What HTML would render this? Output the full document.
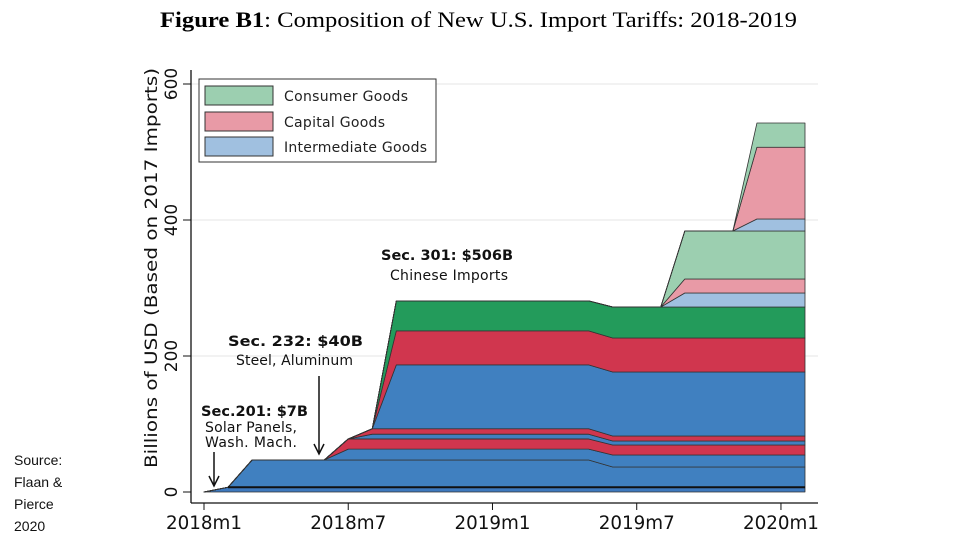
<!DOCTYPE html>
<html><head><meta charset="utf-8"><style>
body{margin:0;background:#fff;width:960px;height:540px;overflow:hidden;font-family:"DejaVu Sans","Liberation Sans",sans-serif}
</style></head><body>
<svg id="c" width="960" height="540" xmlns="http://www.w3.org/2000/svg" font-family="DejaVu Sans, Liberation Sans, sans-serif">
<text x="160" y="27" textLength="637" lengthAdjust="spacingAndGlyphs" font-family="Liberation Serif,serif" font-size="22"><tspan font-weight="bold">Figure B1</tspan>: Composition of New U.S. Import Tariffs: 2018-2019</text>
<g id="grid"></g><g id="areas"></g><g id="axes"></g>
<g>
<rect x="199" y="79" width="237" height="83" fill="#fff" stroke="#333" stroke-width="1"/>
<rect x="205" y="86" width="68" height="19" fill="#9ccfb0" stroke="#333"/>
<text x="284" y="101" font-size="14" textLength="124" fill="#222">Consumer Goods</text>
<rect x="205" y="112" width="68" height="19" fill="#e89aa6" stroke="#333"/>
<text x="284" y="127" font-size="14" textLength="101" fill="#222">Capital Goods</text>
<rect x="205" y="137" width="68" height="19" fill="#a0c0e0" stroke="#333"/>
<text x="284" y="152" font-size="14" textLength="143" fill="#222">Intermediate Goods</text>
</g>
<g font-size="14" fill="#111">
<text x="381" y="260" textLength="132" lengthAdjust="spacingAndGlyphs" font-weight="bold">Sec. 301: $506B</text>
<text x="390" y="280" textLength="118">Chinese Imports</text>
<text x="228" y="346" textLength="135" lengthAdjust="spacingAndGlyphs" font-weight="bold">Sec. 232: $40B</text>
<text x="236" y="365" textLength="117">Steel, Aluminum</text>
<text x="201" y="416" textLength="107" lengthAdjust="spacingAndGlyphs" font-weight="bold">Sec.201: $7B</text>
<text x="205" y="432" textLength="92">Solar Panels,</text>
<text x="205" y="447" textLength="92">Wash. Mach.</text>
</g>
<g stroke="#111" stroke-width="1.5" fill="none">
<path d="M319 376V453M314 444L319 454L324 444"/>
<path d="M214 452V485M209 476L214 486L219 476"/>
</g>
<g font-size="14" fill="#111" font-family="Liberation Sans,sans-serif">
<text x="14" y="465">Source:</text>
<text x="14" y="487">Flaan &amp;</text>
<text x="14" y="509">Pierce</text>
<text x="14" y="531">2020</text>
</g>
</svg>
<script>
// months since 2018m1 (0..25); cumulative boundary values (Billions USD)
const months=[0,1,2,3,4,5,6,7,8,9,10,11,12,13,14,15,16,17,18,19,20,21,22,23,24,25];
const xTicks=[0,6,12,18,24];
const xTickLabels=["2018m1","2018m7","2019m1","2019m7","2020m1"];
const yTicks=[0,200,400,600];
const layerColors=["#3d78bd","#4080c0","#4080c0","#d0364e","#4080c0","#d0364e","#4080c0","#d0364e","#239b5b","#a0c0e0","#e89aa6","#9ccfb0","#a0c0e0","#e89aa6","#9ccfb0"];
const L1=[0,7,7,7,7,7,7,7,7,7,7,7,7,7,7,7,7,7.4,7.4,7.4,7.4,7.4,7.4,7.4,7.4,7.4];
const L2=[0,7,47,47,47,47,47,47,47,47,47,47,47,47,47,47,47,36.8,36.8,36.8,36.8,36.8,36.8,36.8,36.8,36.8];
const L3=[0,7,47,47,47,47,63,63,63,63,63,63,63,63,63,63,63,54.4,54.4,54.4,54.4,54.4,54.4,54.4,54.4,54.4];
const L4=[0,7,47,47,47,47,78,78,78,78,78,78,78,78,78,78,78,69.1,69.1,69.1,69.1,69.1,69.1,69.1,69.1,69.1];
const L5=[0,7,47,47,47,47,78,85,85,85,85,85,85,85,85,85,85,75,75,75,75,75,75,75,75,75];
const L6=[0,7,47,47,47,47,78,93,93,93,93,93,93,93,93,93,93,82.4,82.4,82.4,82.4,82.4,82.4,82.4,82.4,82.4];
const L7=[0,7,47,47,47,47,78,93,187,187,187,187,187,187,187,187,187,176.5,176.5,176.5,176.5,176.5,176.5,176.5,176.5,176.5];
const L8=[0,7,47,47,47,47,78,93,237,237,237,237,237,237,237,237,237,226.5,226.5,226.5,226.5,226.5,226.5,226.5,226.5,226.5];
const L9=[0,7,47,47,47,47,78,93,281,281,281,281,281,281,281,281,281,272,272,272,272,272,272,272,272,272];
const L10=[0,7,47,47,47,47,78,93,281,281,281,281,281,281,281,281,281,272,272,272,292.6,292.6,292.6,292.6,292.6,292.6];
const L11=[0,7,47,47,47,47,78,93,281,281,281,281,281,281,281,281,281,272,272,272,313.2,313.2,313.2,313.2,313.2,313.2];
const L12=[0,7,47,47,47,47,78,93,281,281,281,281,281,281,281,281,281,272,272,272,383.8,383.8,383.8,383.8,383.8,383.8];
const L13=[0,7,47,47,47,47,78,93,281,281,281,281,281,281,281,281,281,272,272,272,383.8,383.8,383.8,401.5,401.5,401.5];
const L14=[0,7,47,47,47,47,78,93,281,281,281,281,281,281,281,281,281,272,272,272,383.8,383.8,383.8,507,507,507];
const L15=[0,7,47,47,47,47,78,93,281,281,281,281,281,281,281,281,281,272,272,272,383.8,383.8,383.8,542.6,542.6,542.6];
const layers=[L1,L2,L3,L4,L5,L6,L7,L8,L9,L10,L11,L12,L13,L14,L15];
const NS="http://www.w3.org/2000/svg";
const x=m=>204+m*24.04;
const y=v=>492-v*0.68;
function mk(tag,attrs,parent){const e=document.createElementNS(NS,tag);for(const k in attrs)e.setAttribute(k,attrs[k]);parent.appendChild(e);return e;}
const grid=document.getElementById('grid'),areas=document.getElementById('areas'),axes=document.getElementById('axes');
yTicks.forEach(t=>{if(t>0){const g=mk('line',{x1:191,x2:818,y1:y(t),y2:y(t),stroke:'#e6e6e6','stroke-width':1},grid);

}});
layers.forEach((L,i)=>{const B=i?layers[i-1]:months.map(()=>0);
let d='M'+months.map(m=>x(m)+','+y(L[m])).join('L')+'L'+months.slice().reverse().map(m=>x(m)+','+y(B[m])).join('L')+'Z';
const p=mk('path',{d:d,fill:layerColors[i],stroke:'#333','stroke-width':0.8,'stroke-linejoin':'round'},areas);

});
const base=mk('line',{x1:x(1),x2:x(25),y1:y(7),y2:y(7),stroke:'#111','stroke-width':2},areas);


const ya=mk('line',{x1:191,x2:191,y1:70,y2:503,stroke:'#111','stroke-width':1.3},axes);


const xa=mk('line',{x1:191,x2:818,y1:503,y2:503,stroke:'#111','stroke-width':1.3},axes);


yTicks.forEach(t=>{mk('line',{x1:183,x2:191,y1:y(t),y2:y(t),stroke:'#111'},axes);
const tx=mk('text',{x:0,y:0,'font-size':17,'text-anchor':'middle',transform:`translate(177,${y(t)}) rotate(-90)`,fill:'#111'},axes);tx.textContent=t;

});
xTicks.forEach((m,i)=>{mk('line',{x1:x(m),x2:x(m),y1:503,y2:510,stroke:'#111'},axes);
const tx=mk('text',{x:x(m),y:529,'font-size':18.3,'text-anchor':'middle',fill:'#111'},axes);tx.textContent=xTickLabels[i];

});
const yt=mk('text',{x:0,y:0,'font-size':17,'text-anchor':'middle',textLength:400,lengthAdjust:'spacingAndGlyphs',transform:'translate(157,268) rotate(-90)',fill:'#111'},axes);
yt.textContent='Billions of USD (Based on 2017 Imports)';


</script>
</body></html>
